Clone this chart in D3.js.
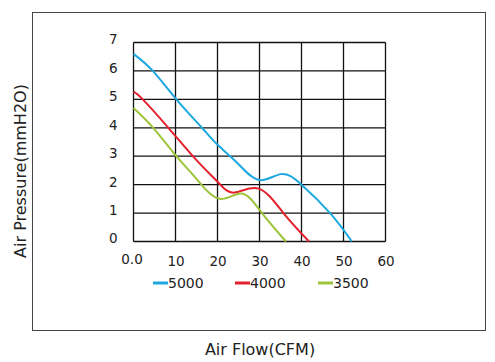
<!DOCTYPE html>
<html>
<head>
  <script src="https://d3js.org/d3.v7.min.js"></script>
  <style>
    body { margin: 0; background: #fff; }
    svg { display: block; font-family: "DejaVu Sans", sans-serif; }
    .tick text { fill: #222; font-size: 13.5px; font-family: "DejaVu Sans", sans-serif; }
  </style>
</head>
<body>
<svg id="chart" width="495" height="362"></svg>
<script>
  // fan curves: [CFM, mmH2O]
  const xTicks = [0, 10, 20, 30, 40, 50, 60];
  const yTicks = [0, 1, 2, 3, 4, 5, 6, 7];
  const seriesNames = ["5000", "4000", "3500"];
  const seriesColors = ["#1ea8e0", "#e3222e", "#9dc43b"];
  const curve5000 = [[0, 6.6], [4.6, 6.0], [10.2, 5.0], [16.3, 4.0], [20, 3.4], [25, 2.72], [30, 2.16], [35.1, 2.37], [40, 2.0], [46.8, 1.0], [52, 0]];
  const curve4000 = [[0, 5.27], [2.2, 5.0], [8.3, 4.0], [15, 2.86], [20, 2.1], [24, 1.72], [29.8, 1.86], [35.7, 1.0], [41.8, 0]];
  const curve3500 = [[0, 4.7], [4.7, 4.0], [10, 3.04], [15, 2.2], [20.5, 1.5], [25.8, 1.69], [30.6, 1.0], [36.3, 0]];
  const allCurves = [curve5000, curve4000, curve3500];

  const svg = d3.select("#chart");

  // outer frame
  svg.append("rect")
    .attr("x", 32.5).attr("y", 12.5)
    .attr("width", 453).attr("height", 318)
    .attr("fill", "none").attr("stroke", "#444").attr("stroke-width", 1);

  const x = d3.scaleLinear().domain([0, 60]).range([133.5, 385.5]);
  const y = d3.scaleLinear().domain([0, 7]).range([241.5, 42.5]);

  // grid
  svg.append("g").selectAll("line").data(xTicks).join("line")
    .attr("x1", d => x(d)).attr("x2", d => x(d))
    .attr("y1", y(0)).attr("y2", y(7))
    .attr("stroke", "#111").attr("stroke-width", 1.3);
  svg.append("g").selectAll("line").data(yTicks).join("line")
    .attr("x1", x(0)).attr("x2", x(60))
    .attr("y1", d => y(d)).attr("y2", d => y(d))
    .attr("stroke", "#111").attr("stroke-width", 1.3);

  // axis labels
  const xAxis = svg.append("g")
    .attr("transform", `translate(0,${y(0)})`)
    .call(d3.axisBottom(x).tickValues(xTicks).tickSize(0).tickPadding(15)
      .tickFormat(d => d === 0 ? "0.0" : d));
  xAxis.select(".domain").remove();
  xAxis.selectAll(".tick").filter(d => d === 0).select("text").attr("dy", "0.55em").attr("dx", "-2");

  const yAxis = svg.append("g")
    .attr("transform", `translate(${x(0)},0)`)
    .call(d3.axisLeft(y).tickValues(yTicks).tickSize(0).tickPadding(16).tickFormat(d3.format("d")));
  yAxis.select(".domain").remove();
  yAxis.selectAll(".tick text").attr("dy", "0.1em");

  // curves
  const line = d3.line().x(d => x(d[0])).y(d => y(d[1])).curve(d3.curveNatural);
  svg.append("g").selectAll("path").data(allCurves).join("path")
    .attr("d", line)
    .attr("fill", "none")
    .attr("stroke", (d, i) => seriesColors[i])
    .attr("stroke-width", 2);

  // legend
  const legendX = [153, 235, 318];
  const legend = svg.append("g").selectAll("g").data(seriesNames).join("g")
    .attr("transform", (d, i) => `translate(${legendX[i]},283)`);
  legend.append("line")
    .attr("x1", 0).attr("x2", 15).attr("y1", 0).attr("y2", 0)
    .attr("stroke", (d, i) => seriesColors[i]).attr("stroke-width", 3);
  legend.append("text")
    .attr("x", 15).attr("y", 5)
    .attr("font-size", 14).attr("fill", "#222")
    .text(d => d);

  // titles
  svg.append("text")
    .attr("x", 260).attr("y", 355)
    .attr("text-anchor", "middle").attr("font-size", 16).attr("fill", "#222")
    .text("Air Flow(CFM)");
  svg.append("text")
    .attr("transform", "translate(26,171) rotate(-90)")
    .attr("text-anchor", "middle").attr("font-size", 16).attr("fill", "#222")
    .text("Air Pressure(mmH2O)");
</script>
</body>
</html>
